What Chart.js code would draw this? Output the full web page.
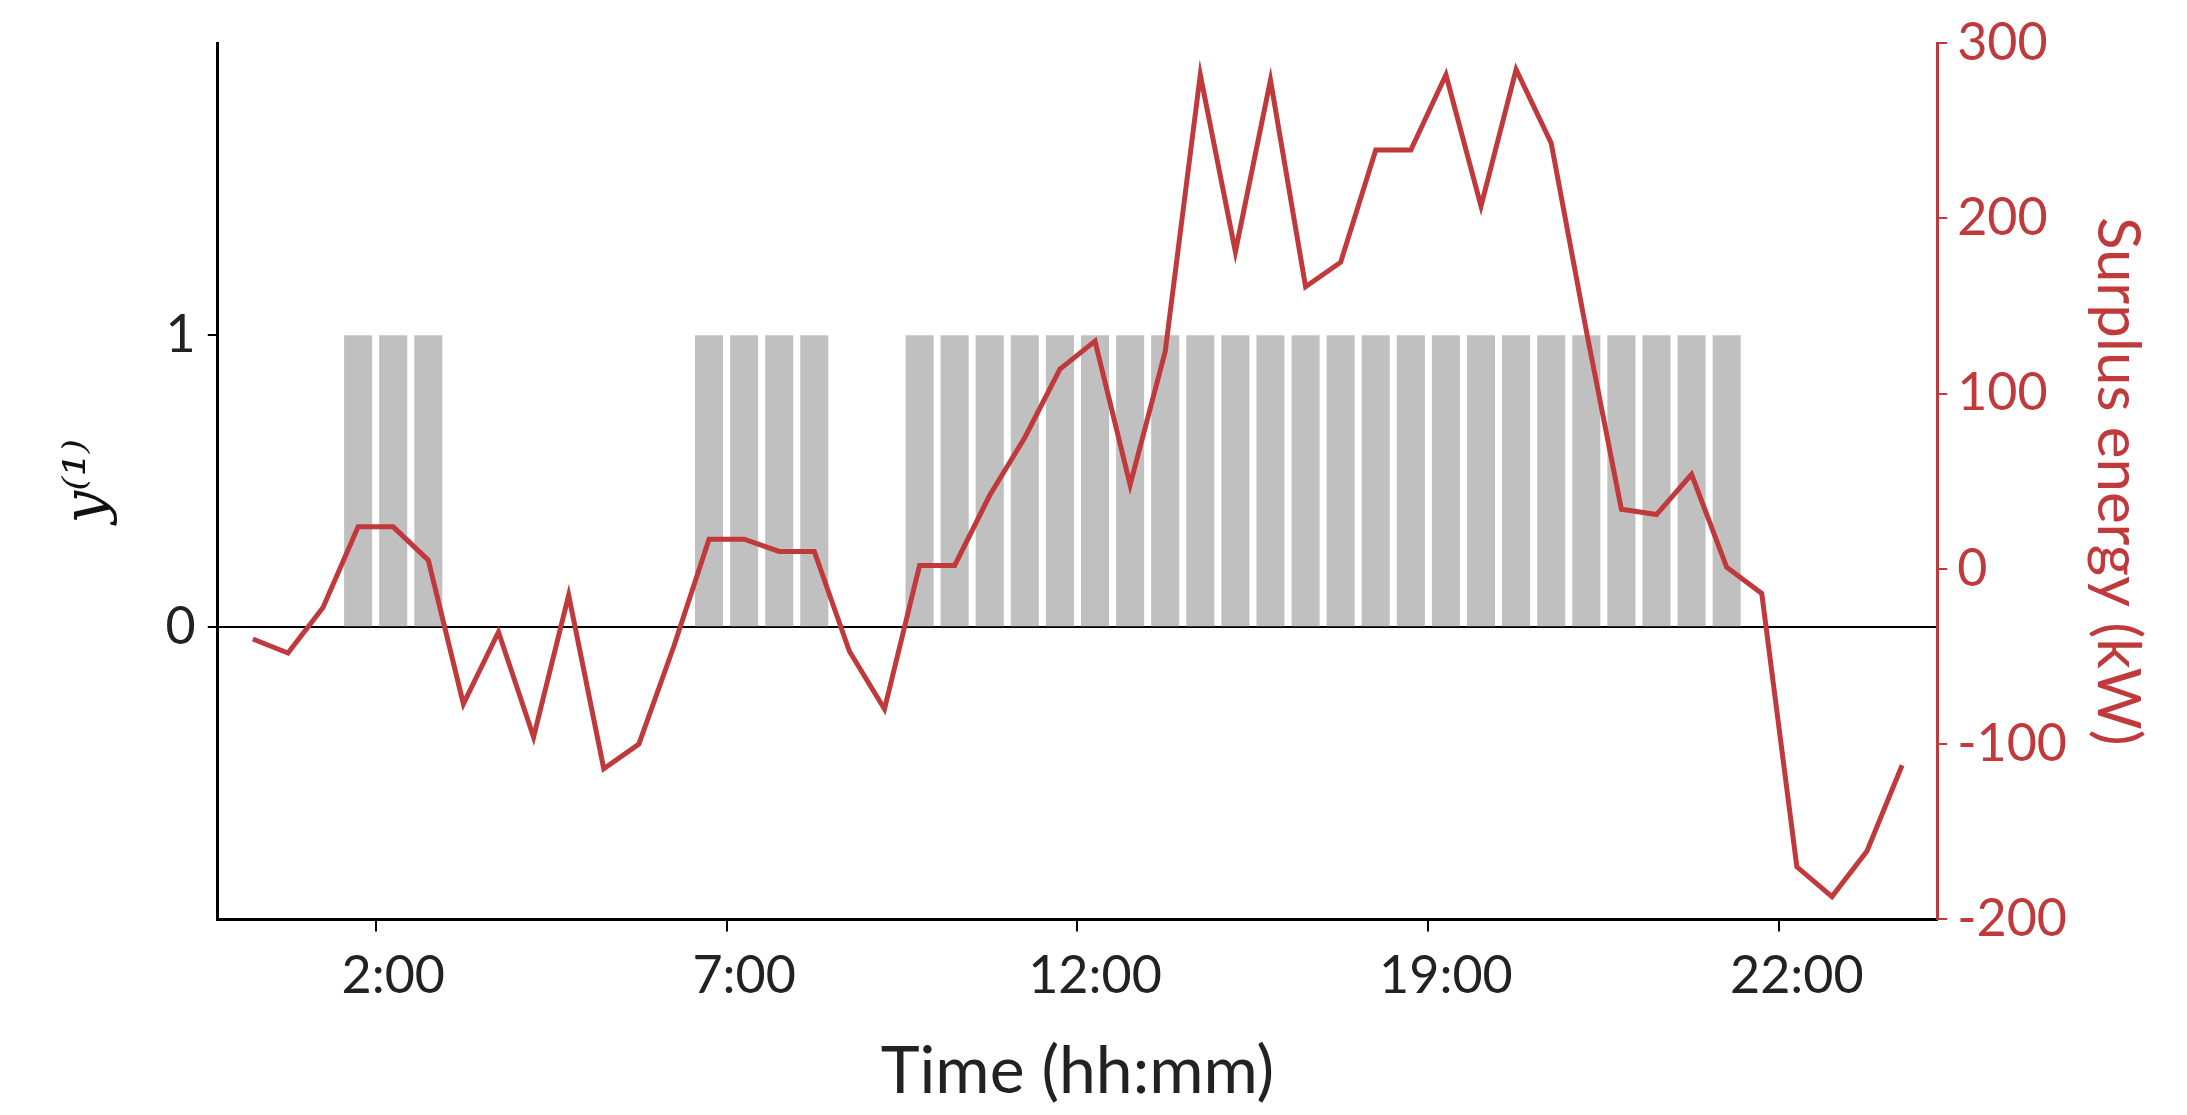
<!DOCTYPE html>
<html><head><meta charset="utf-8">
<script src="https://cdn.jsdelivr.net/npm/chart.js@4"></script>
<style>html,body{margin:0;background:#fff}#w{width:2187px;height:1115px}</style>
</head><body><div id="w"><canvas id="c"></canvas></div>
<script>
const tickIndex = [4, 14, 24, 34, 44];
const tickLabels = ['2:00', '7:00', '12:00', '19:00', '22:00'];
const surplus = [-40,-48,-22,24,24,5,-77,-36,-96,-15,-114,-100,-44,17,17,10,10,-47,-80,2,2,42,75,114,130,48,124,282,181,279,161,175,239,239,282,207,285,243,136,34,31,54,1,-14,-170,-187,-161,-112];
const onSlots = [3,4,5,13,14,15,16,19,20,21,22,23,24,25,26,27,28,29,30,31,32,33,34,35,36,37,38,39,40,41,42];
const RED = '#c0393b';
// category slots: one empty pad slot before and after the 48 half-hour points
const N = surplus.length + 2;
const labels = Array.from({length: N}, (_, s) => { const k = tickIndex.indexOf(s - 1); return k >= 0 ? tickLabels[k] : ''; });
const lineData = [null, ...surplus, null];
const barData = Array.from({length: N}, (_, s) => onSlots.includes(s - 1) ? 1 : null);
new Chart(document.getElementById('c'), {
  data: {
    labels: labels,
    datasets: [
      { type: 'line', data: lineData, yAxisID: 'y2', borderColor: RED, borderWidth: 5, pointRadius: 0, tension: 0, spanGaps: false, order: 0 },
      { type: 'bar', data: barData, yAxisID: 'y', backgroundColor: '#c0c0c0', barPercentage: 0.8, categoryPercentage: 1, order: 1 }
    ]
  },
  options: {
    responsive: true, maintainAspectRatio: false, animation: false,
    layout: { padding: { left: 50, right: 10, top: 40, bottom: 0 } },
    plugins: { legend: { display: false }, tooltip: { enabled: false } },
    scales: {
      x: { type: 'category', offset: false,
        ticks: { color: '#222', font: { family: 'Lato', size: 52 }, padding: 14, maxRotation: 0, autoSkip: false },
        grid: { display: true, drawOnChartArea: false, color: ctx => (labels[ctx.index] ? '#000' : 'rgba(0,0,0,0)'), tickLength: 12, lineWidth: 2 },
        border: { color: '#000', width: 3 },
        title: { display: true, text: 'Time (hh:mm)', color: '#222', font: { family: 'Lato', size: 66 }, padding: { top: 10 } } },
      y: { position: 'left', min: -1, max: 2,
        afterBuildTicks: ax => { ax.ticks = [{value: 0}, {value: 1}]; },
        ticks: { color: '#222', font: { family: 'Lato', size: 52 }, padding: 12 },
        grid: { color: ctx => ctx.tick && ctx.tick.value === 0 ? '#000' : 'rgba(0,0,0,0)', lineWidth: 2, tickColor: '#000', tickLength: 10 },
        border: { color: '#000', width: 3 },
        title: { display: true, text: 'y⁽¹⁾', color: '#111', font: { family: 'DejaVu Serif', size: 58, style: 'italic' }, padding: { bottom: 30 } } },
      y2: { position: 'right', min: -200, max: 300,
        ticks: { stepSize: 100, color: RED, font: { family: 'Lato', size: 52 }, padding: 10 },
        grid: { drawOnChartArea: false, color: RED, tickLength: 10, lineWidth: 2 },
        border: { color: RED, width: 3 },
        title: { display: true, text: 'Surplus energy (kW)', color: RED, font: { family: 'Lato', size: 60 }, padding: { top: 24 } } }
    }
  }
});
</script></body></html>
